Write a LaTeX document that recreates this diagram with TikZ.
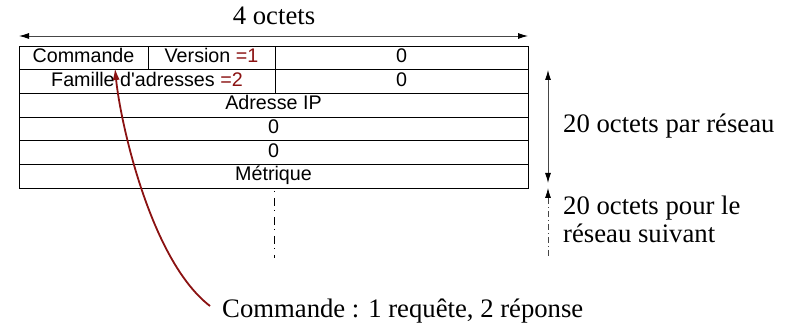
\documentclass[tikz,border=0pt]{standalone}
\usepackage{fontspec}
\setmainfont{Liberation Serif}
\newfontfamily\arialfont{Liberation Sans}
\usetikzlibrary{arrows.meta}
\definecolor{dred}{RGB}{139,18,18}
\definecolor{lgray}{RGB}{70,70,70}
\begin{document}
\begin{tikzpicture}[x=1pt,y=-1pt,
  cell/.style={draw, line width=0.9pt, rectangle, inner sep=0pt, minimum height=23.67pt,
    text height=14.5pt, text depth=5.17pt, font=\arialfont\fontsize{19.7}{20}\selectfont},
  big/.style={font=\fontsize{26.7}{28}\selectfont, inner sep=0pt},
  dimarrow/.style={draw=lgray, line width=0.9pt,
    {Latex[length=10pt,width=6pt,color=black]}-{Latex[length=10pt,width=6pt,color=black]}},
  nextarrow/.style={draw=lgray, line width=0.8pt, dash pattern=on 6pt off 3pt on 1pt off 3pt,
    -{Latex[length=10pt,width=6pt,color=black]}},
  dotline/.style={draw=black, line width=0.8pt, dash pattern=on 1pt off 6pt on 8pt off 4pt},
  pointer/.style={draw=dred, line width=1.8pt, -{Latex[length=12pt,width=7pt]}}
]
\fill[white] (0,0) rectangle (797,328);
\useasboundingbox (0,0) rectangle (797,328);

% title and width arrow
\node[big, anchor=base] (t4) at (274,25) {4 octets};
\coordinate (wl) at (19,36);
\coordinate (wr) at (528,36);
\draw[dimarrow] (wl) -- (wr);

% table
\node[cell, minimum width=129pt] (c11) at (83.5,57.83) {Commande};
\node[cell, minimum width=127pt] (c12) at (211.5,57.83) {Version \textcolor{dred}{=1}};
\node[cell, minimum width=253pt] (c13) at (401.5,57.83) {0};
\node[cell, minimum width=256pt] (c21) at (147,81.5) {Famille d'adresses \textcolor{dred}{=2}};
\node[cell, minimum width=253pt] (c22) at (401.5,81.5) {0};
\node[cell, minimum width=509pt] (c3) at (273.5,105.17) {Adresse IP};
\node[cell, minimum width=509pt] (c4) at (273.5,128.83) {0};
\node[cell, minimum width=509pt] (c5) at (273.5,152.5) {0};
\node[cell, minimum width=509pt] (c6) at (273.5,176.17) {Métrique};

% continuation line
\coordinate (va) at (274,191);
\coordinate (vb) at (274,258);
\draw[dotline] (va) -- (vb);

% right side
\coordinate (ha) at (548,70);
\coordinate (hb) at (548,183);
\draw[dimarrow] (ha) -- (hb);
\node[big, anchor=base west] (per) at (563,133) {20 octets par réseau};

\coordinate (na) at (548,188);
\coordinate (nb) at (548,256);
\draw[nextarrow] (nb) -- (na);
\node[big, anchor=base west] (next1) at (563,215) {20 octets pour le};
\node[big, anchor=base west] (next2) at (563,243) {réseau suivant};

% note and pointer
\node[big, anchor=base west] (note) at (222,317) {Commande : 1 requête, 2 réponse};
\coordinate (cs) at (210,306);
\coordinate (ct) at (115,68);
\draw[pointer] (cs) .. controls (150,260) and (120,120) .. (ct);
\end{tikzpicture}
\end{document}
